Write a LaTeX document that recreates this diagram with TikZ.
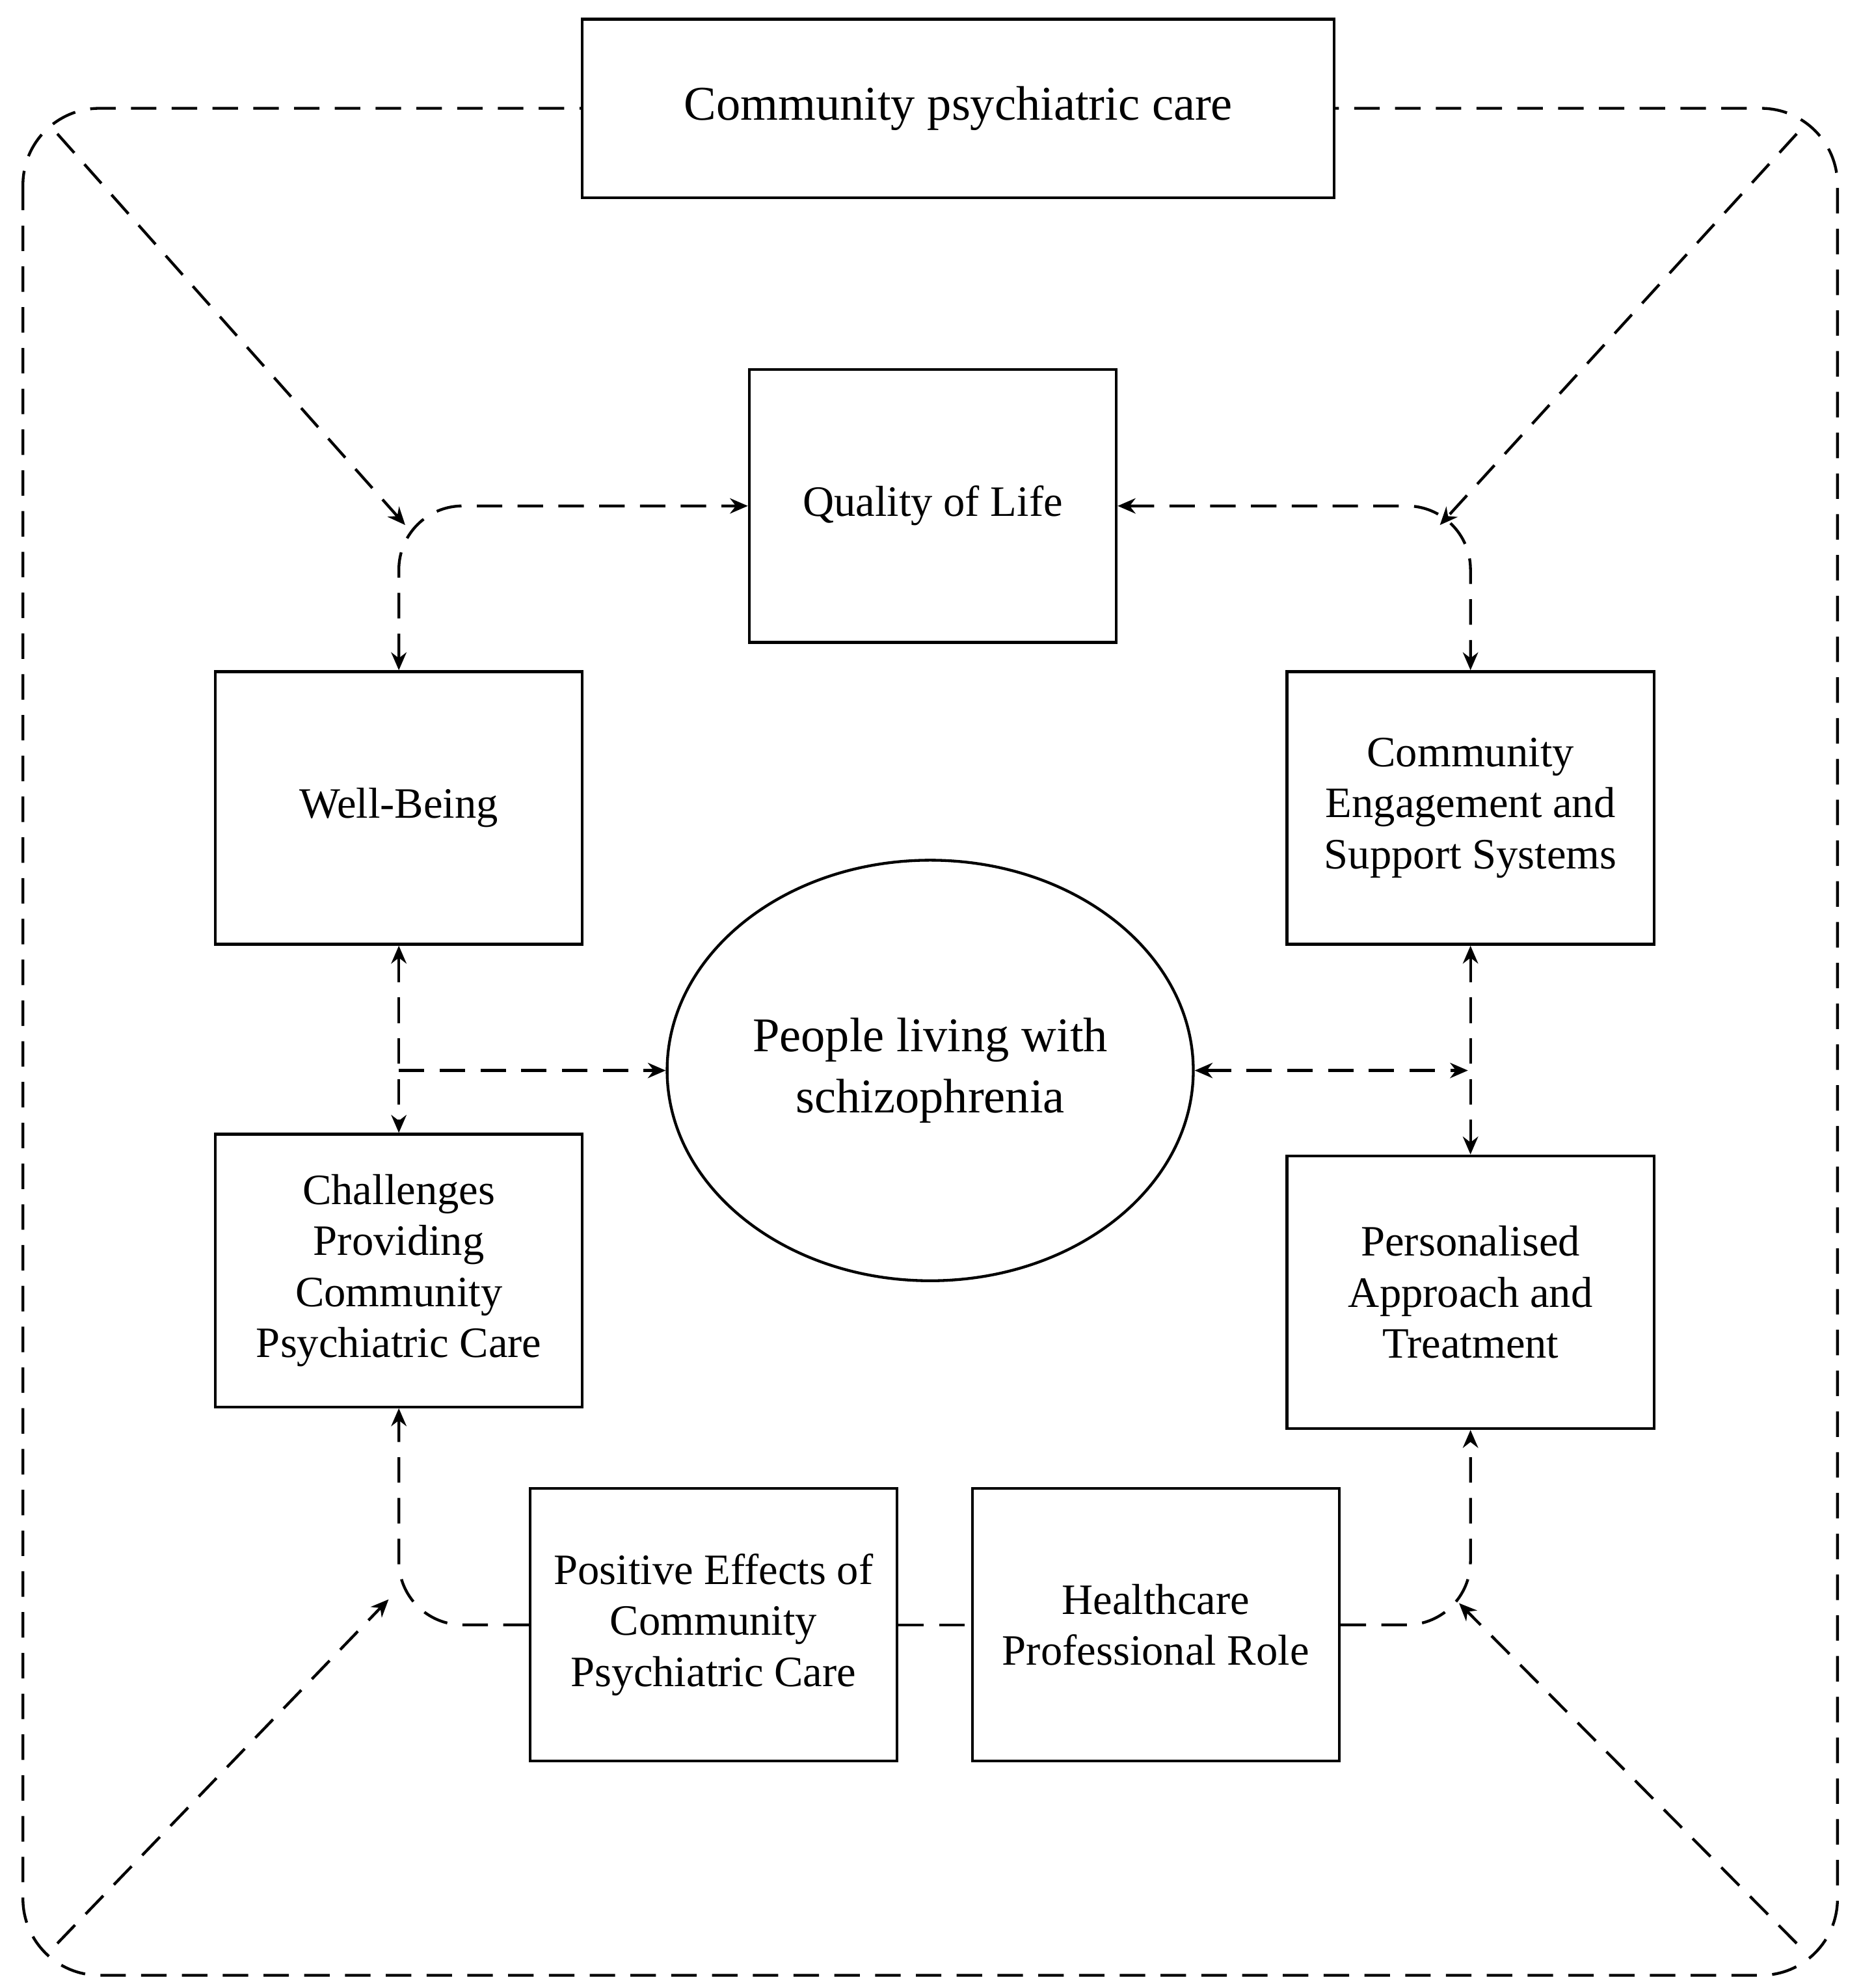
\documentclass[tikz,border=0pt]{standalone}
\usepackage{fontspec}
\setmainfont{Liberation Serif}
\usetikzlibrary{arrows.meta,shapes.geometric}

\begin{document}
\begin{tikzpicture}[x=0.5pt,y=0.5pt,yscale=-1,xscale=1,
  box/.style={draw,line width=1.1pt,fill=white,minimum width=144pt,minimum height=107pt,align=center,font=\fontsize{17}{20}\selectfont},
  link/.style={line width=1.1pt,dash pattern=on 10pt off 6pt,-{Stealth[length=7pt,width=6pt]}},
  both/.style={link,{Stealth[length=7pt,width=6pt]}-{Stealth[length=7pt,width=6pt]}}]
\useasboundingbox (0,0) rectangle (1460,1560);

%Outer frame
\draw [line width=1.1pt,dash pattern=on 10pt off 6pt,rounded corners=30pt] (18,85) rectangle (1442,1550);

% Boxes
\node [box,minimum width=295pt,minimum height=70pt,font=\fontsize{19}{22}\selectfont] (care) at (752,85) {Community psychiatric care};
\node [box] (qol) at (732,397) {Quality of Life};
\node [box] (well) at (313,634) {Well-Being};
\node [box] (engage) at (1154,634) {Community\\Engagement and\\Support Systems};
\node [box] (chall) at (313,997) {Challenges\\Providing\\Community\\Psychiatric Care};
\node [box] (pers) at (1154,1014) {Personalised\\Approach and\\Treatment};
\node [box] (pos) at (560,1275) {Positive Effects of\\Community\\Psychiatric Care};
\node [box] (hcp) at (907,1275) {Healthcare\\Professional Role};
\node [draw,ellipse,line width=1.1pt,minimum width=197pt,minimum height=165pt,align=center,font=\fontsize{19}{24}\selectfont] (people) at (730,840) {People living with\\schizophrenia};

% Corner points
\coordinate (tl) at (45,105);
\coordinate (tr) at (1410,105);
\coordinate (bl) at (45,1525);
\coordinate (br) at (1410,1525);
\coordinate (tlend) at (318,412);
\coordinate (trend) at (1130,412);
\coordinate (blend) at (305,1255);
\coordinate (brend) at (1145,1258);
\coordinate (lmid) at (313,840);
\coordinate (rmid) at (1152,840);

% Diagonal arrows
\draw [link] (tl) -- (tlend);
\draw [link] (tr) -- (trend);
\draw [link] (bl) -- (blend);
\draw [link] (br) -- (brend);

% Links between themes
\draw [both,rounded corners=25pt] (well.north) |- (qol.west);
\draw [both,rounded corners=25pt] (qol.east) -| (engage.north);
\draw [both] (well.south) -- (chall.north);
\draw [both] (engage.south) -- (pers.north);
\draw [link] (lmid) -- (people.west);
\draw [both] (people.east) -- (rmid);
\draw [link,rounded corners=25pt] (pos.west) -| (chall.south);
\draw [link,-] (pos.east) -- (hcp.west);
\draw [link,rounded corners=25pt] (hcp.east) -| (pers.south);

\end{tikzpicture}
\end{document}
